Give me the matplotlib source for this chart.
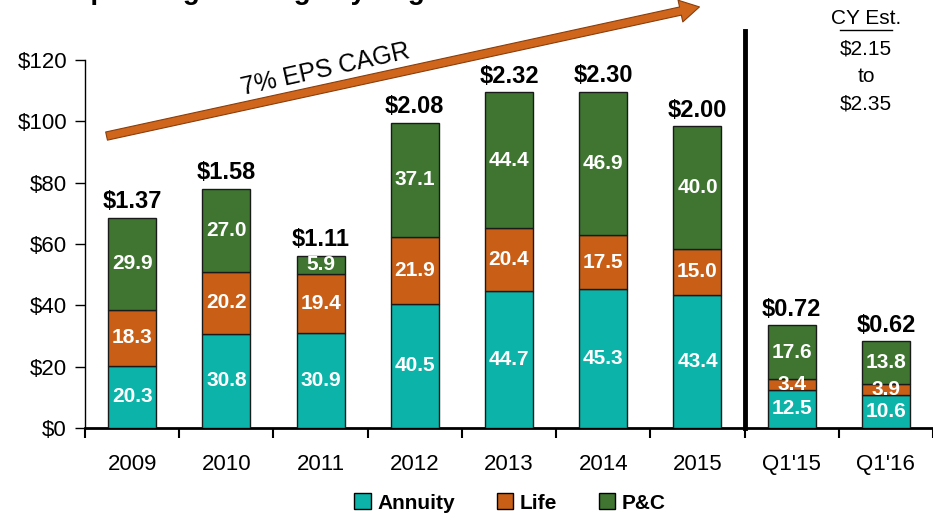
import numpy as np
import matplotlib
matplotlib.use('Agg')
from matplotlib import pyplot as plt
from matplotlib import font_manager
from matplotlib.patches import Patch

# fonts - narrow arial-ish if we have it
names = {f.name for f in font_manager.fontManager.ttflist}
fam = [f for f in ['Liberation Sans Narrow', 'Liberation Sans', 'DejaVu Sans'] if f in names]
plt.rcParams['font.family'] = fam

categories = ['2009', '2010', '2011', '2012', '2013', '2014', '2015', "Q1'15", "Q1'16"]
annuity = [20.3, 30.8, 30.9, 40.5, 44.7, 45.3, 43.4, 12.5, 10.6]
life = [18.3, 20.2, 19.4, 21.9, 20.4, 17.5, 15.0, 3.4, 3.9]
pc = [29.9, 27.0, 5.9, 37.1, 44.4, 46.9, 40.0, 17.6, 13.8]
eps = ['$1.37', '$1.58', '$1.11', '$2.08', '$2.32', '$2.30', '$2.00', '$0.72', '$0.62']
yticks = [0, 20, 40, 60, 80, 100, 120]

c_ann = '#0BB3A9'
c_life = '#C95F17'
c_pc = '#3F7531'

fig = plt.figure(figsize=(9.33, 5.16), dpi=100)
ax = fig.add_axes([85 / 933, 1 - 428 / 516, 848 / 933, 368 / 516])

x = np.arange(len(categories))
w = 0.51
a = np.array(annuity)
l = np.array(life)
p = np.array(pc)
kw = dict(width=w, edgecolor='#1a1a1a', linewidth=1.0, zorder=3)
ax.bar(x, a, color=c_ann, label='Annuity', **kw)
ax.bar(x, l, bottom=a, color=c_life, label='Life', **kw)
ax.bar(x, p, bottom=a + l, color=c_pc, label='P&C', **kw)

lbl = dict(ha='center', va='center', color='white', fontsize=15, fontweight='bold', zorder=5)
for i in range(len(x)):
    ax.text(x[i], a[i] / 2, f'{a[i]:.1f}', **lbl)
    ax.text(x[i], a[i] + l[i] / 2, f'{l[i]:.1f}', **lbl)
    ax.text(x[i], a[i] + l[i] + p[i] / 2, f'{p[i]:.1f}', **lbl)
    ax.text(x[i], a[i] + l[i] + p[i] + 1.5, eps[i], ha='center', va='bottom',
            fontsize=17, fontweight='bold', color='black')

ax.set_xlim(-0.5, len(x) - 0.5)
ax.set_ylim(0, 120)
ax.set_yticks(yticks)
ax.set_yticklabels(['$' + str(v) for v in yticks], fontsize=16)
ax.set_xticks(x)
ax.set_xticklabels(categories, fontsize=16)
ax.set_xticks(np.arange(len(x) + 1) - 0.5, minor=True)
ax.tick_params(axis='x', which='major', length=0, pad=19)
ax.tick_params(axis='x', which='minor', length=7, width=1.5, direction='out')
ax.tick_params(axis='y', length=7, width=1.0, direction='out', pad=6)
ax.spines['top'].set_visible(False)
ax.spines['right'].set_visible(False)
ax.spines['bottom'].set_linewidth(2)
ax.spines['left'].set_linewidth(1)

# divider between annual and quarterly
ax.plot([6.5, 6.5], [0, 129.5], color='black', lw=3.5, clip_on=False, zorder=4)

# growth arrow
ax.annotate('', xy=(6.05, 137.5), xytext=(-0.3, 95),
            arrowprops=dict(arrowstyle='simple,head_length=1.4,head_width=1.6,tail_width=0.6',
                            fc='#D0661C', ec='#8A3E0C', lw=0.8),
            annotation_clip=False, zorder=6)
ax.text(2.05, 117, '7% EPS CAGR', rotation=12.5, ha='center', va='center',
        fontsize=18, color='black')

# title sits mostly above the visible area, only descenders show
fig.text(280 / 933, 1 + 1 / 516, 'Operating Earnings by Segment', ha='center', va='baseline',
         fontsize=20, fontweight='bold')

# CY estimate
fig.text(866 / 933, 1 - 19 / 516, 'CY Est.', ha='center', va='center', fontsize=15)
fig.add_artist(plt.Line2D([840 / 933, 892 / 933], [1 - 30 / 516, 1 - 30 / 516],
                          color='black', lw=1))
fig.text(866 / 933, 1 - 49 / 516, '$2.15', ha='center', va='center', fontsize=15)
fig.text(866 / 933, 1 - 76 / 516, 'to', ha='center', va='center', fontsize=15)
fig.text(866 / 933, 1 - 104 / 516, '$2.35', ha='center', va='center', fontsize=15)

handles = [Patch(facecolor=c, edgecolor='black', linewidth=1) for c in (c_ann, c_life, c_pc)]
fig.legend(handles, ['Annuity', 'Life', 'P&C'], loc='center', bbox_to_anchor=(510 / 933, 1 - 503 / 516),
           ncol=3, frameon=False, handlelength=0.8, handleheight=0.8, handletextpad=0.3,
           columnspacing=2.0, prop={'weight': 'bold', 'size': 15})

fig.savefig('out.png', dpi=100)
